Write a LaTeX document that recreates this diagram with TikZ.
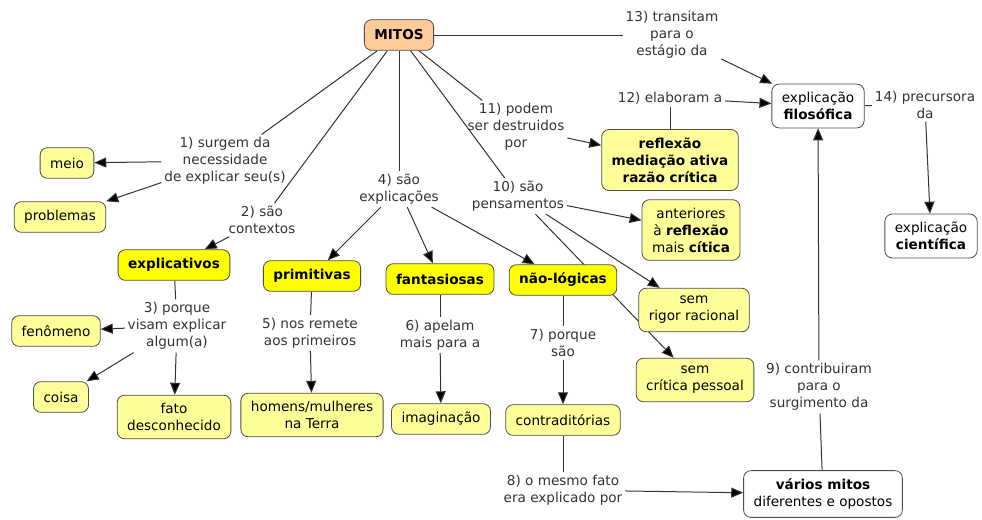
\documentclass[tikz,border=0pt]{standalone}
\usepackage{fontspec}
\setmainfont{DejaVu Sans}
\usetikzlibrary{arrows.meta,backgrounds}
\definecolor{amarelo}{HTML}{FFFF99}
\definecolor{amareloforte}{HTML}{FFFF00}
\definecolor{laranja}{HTML}{FFCC99}
\definecolor{borda}{HTML}{4D4D4D}
\definecolor{texto}{HTML}{333333}
\newcommand{\fonte}{\fontsize{10.2}{12.8}\selectfont}

\begin{document}
\begin{tikzpicture}[x=0.75pt,y=-0.75pt]
            \tikzstyle{conceito}=[draw=borda,line width=0.6pt,rounded corners=5.5pt,fill=amarelo,align=center,inner xsep=7.5pt,inner ysep=6pt,minimum height=23pt,font=\fonte]
            \tikzstyle{forte}=[conceito,fill=amareloforte,font=\fonte\bfseries]
            \tikzstyle{branco}=[conceito,fill=white]
            \tikzstyle{frase}=[align=center,inner sep=2pt,text=texto,font=\fonte]
            \tikzstyle{liga}=[draw=black!80,line width=0.75pt]
            \tikzstyle{seta}=[liga,-{Triangle[length=9pt,width=7.5pt,fill=black]}]
            \useasboundingbox (0,0) rectangle (982,519);

            \node[conceito,fill=laranja,font=\fonte\bfseries] (mitos) at (399,35) {MITOS};
            \node[branco] (filosofica) at (818,106) {explicação\\\textbf{filosófica}};
            \node[branco] (cientifica) at (931,236) {explicação\\\textbf{científica}};
            \node[conceito,font=\fonte\bfseries] (reflexao) at (670,160) {reflexão\\mediação ativa\\razão crítica};
            \node[conceito] (anteriores) at (691,230) {anteriores\\à \textbf{reflexão}\\mais \textbf{cítica}};
            \node[conceito] (rigor) at (694,310) {sem\\rigor racional};
            \node[conceito] (critica) at (695,380) {sem\\crítica pessoal};
            \node[forte] (naologicas) at (563,280) {não-lógicas};
            \node[conceito] (contraditorias) at (563,420) {contraditórias};
            \node[branco] (varios) at (823,494) {\textbf{vários mitos}\\diferentes e opostos};
            \node[forte] (explicativos) at (174,265) {explicativos};
            \node[forte] (primitivas) at (312,276) {primitivas};
            \node[forte] (fantasiosas) at (440,279) {fantasiosas};
            \node[conceito] (meio) at (67,163) {meio};
            \node[conceito] (problemas) at (60,217) {problemas};
            \node[conceito] (fenomeno) at (56,331) {fenômeno};
            \node[conceito] (coisa) at (61,397) {coisa};
            \node[conceito] (fato) at (174,417) {fato\\desconhecido};
            \node[conceito] (homens) at (312,415) {homens/mulheres\\na Terra};
            \node[conceito] (imaginacao) at (441,419) {imaginação};

            \node[frase] (l1) at (225,161) {1) surgem da\\necessidade\\de explicar seu(s)};
            \node[frase] (l2) at (262,220) {2) são\\contextos};
            \node[frase] (l3) at (177,326) {3) porque\\visam explicar\\algum(a)};
            \node[frase] (l4) at (399,189) {4) são\\explicações};
            \node[frase] (l5) at (310,333) {5) nos remete\\aos primeiros};
            \node[frase] (l6) at (440,335) {6) apelam\\mais para a};
            \node[frase] (l7) at (563,343) {7) porque\\são};
            \node[frase] (l8) at (563,490) {8) o mesmo fato\\era explicado por};
            \node[frase] (l9) at (819,387) {9) contribuiram\\para o\\surgimento da};
            \node[frase] (l10) at (518,196) {10) são\\pensamentos};
            \node[frase] (l11) at (516,127) {11) podem\\ser destruidos\\por};
            \node[frase] (l12) at (670,98) {12) elaboram a};
            \node[frase] (l13) at (672,35) {13) transitam\\para o\\estágio da};
            \node[frase] (l14) at (925,105) {14) precursora\\da};

            \begin{pgfonlayer}{background}
                \fill[white] (0,0) rectangle (982,519);
                \draw[liga] (mitos) -- (l1);
                \draw[seta] (l1) -- (meio);
                \draw[seta] (l1) -- (problemas);
                \draw[liga] (mitos) -- (l2);
                \draw[seta] (l2) -- (explicativos);
                \draw[liga] (explicativos) -- (l3);
                \draw[seta] (l3) -- (fenomeno);
                \draw[seta] (l3) -- (coisa);
                \draw[seta] (l3) -- (fato);
                \draw[liga] (mitos) -- (l4);
                \draw[seta] (l4) -- (primitivas);
                \draw[seta] (l4) -- (fantasiosas);
                \draw[seta] (l4) -- (naologicas);
                \draw[liga] (primitivas) -- (l5);
                \draw[seta] (l5) -- (homens);
                \draw[liga] (fantasiosas) -- (l6);
                \draw[seta] (l6) -- (imaginacao);
                \draw[liga] (naologicas) -- (l7);
                \draw[seta] (l7) -- (contraditorias);
                \draw[liga] (contraditorias) -- (l8);
                \draw[seta] (l8) -- (varios);
                \draw[liga] (varios) -- (l9);
                \draw[seta] (l9) -- (filosofica);
                \draw[liga] (mitos) -- (l10);
                \draw[seta] (l10) -- (anteriores);
                \draw[seta] (l10) -- (rigor);
                \draw[seta] (l10) -- (critica);
                \draw[liga] (mitos) -- (l11);
                \draw[seta] (l11) -- (reflexao);
                \draw[liga] (reflexao) -- (l12);
                \draw[seta] (l12) -- (filosofica);
                \draw[liga] (mitos) -- (l13);
                \draw[seta] (l13) -- (filosofica);
                \draw[liga] (filosofica) -- (l14);
                \draw[seta] (l14) -- (cientifica);
            \end{pgfonlayer}
\end{tikzpicture}
\end{document}
